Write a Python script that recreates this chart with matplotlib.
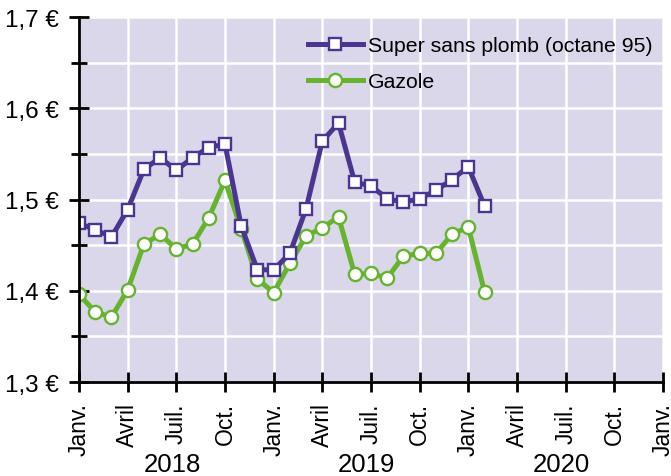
import matplotlib.pyplot as plt
import numpy as np
from matplotlib.ticker import FuncFormatter, MultipleLocator

plt.rcParams["font.family"] = ["Liberation Sans", "DejaVu Sans"]

# monthly average prices, Jan 2018 .. Feb 2020
MONTHS = [
    "2018-01", "2018-02", "2018-03", "2018-04", "2018-05", "2018-06",
    "2018-07", "2018-08", "2018-09", "2018-10", "2018-11", "2018-12",
    "2019-01", "2019-02", "2019-03", "2019-04", "2019-05", "2019-06",
    "2019-07", "2019-08", "2019-09", "2019-10", "2019-11", "2019-12",
    "2020-01", "2020-02",
]
SUPER_95 = [
    1.474, 1.467, 1.459, 1.489, 1.533, 1.546, 1.532, 1.546, 1.557, 1.561,
    1.471, 1.423, 1.423, 1.441, 1.490, 1.564, 1.584, 1.519, 1.515, 1.501,
    1.497, 1.501, 1.510, 1.522, 1.536, 1.493,
]
GAZOLE = [
    1.396, 1.377, 1.371, 1.401, 1.451, 1.462, 1.446, 1.451, 1.480, 1.521,
    1.468, 1.413, 1.398, 1.430, 1.460, 1.469, 1.481, 1.418, 1.419, 1.414,
    1.438, 1.441, 1.441, 1.462, 1.470, 1.399,
]
QUARTER_LABELS = ["Janv.", "Avril", "Juil.", "Oct."] * 3 + ["Janv."]
YEARS = ["2018", "2019", "2020"]

PURPLE = "#4a3591"
GREEN = "#66b32e"
BG = "#dad7ea"

fig = plt.figure(figsize=(6.71, 4.77), dpi=100)
ax = fig.add_axes([0.1177, 0.197, 0.8703, 0.765])
ax.set_facecolor(BG)

x = np.arange(len(MONTHS))
ax.plot(x, GAZOLE, color=GREEN, lw=3.6, marker="o", ms=9.5,
        mfc="white", mec=GREEN, mew=1.7, label="Gazole", zorder=3)
ax.plot(x, SUPER_95, color=PURPLE, lw=3.6, marker="s", ms=8,
        mfc="white", mec=PURPLE, mew=1.7,
        label="Super sans plomb (octane 95)", zorder=4)

ax.set_xlim(0, 36)
ax.set_ylim(1.3, 1.7)
ax.set_xticks(np.arange(0, 37, 3))
ax.set_xticklabels(QUARTER_LABELS, rotation=90, va="top", ha="center")
ax.yaxis.set_major_locator(MultipleLocator(0.1))
ax.yaxis.set_minor_locator(MultipleLocator(0.05))
ax.yaxis.set_major_formatter(
    FuncFormatter(lambda v, p: f"{v:.1f} €".replace(".", ","))
)

ax.grid(True, which="both", axis="y", color="white", lw=1.8, zorder=0)
ax.grid(True, which="major", axis="x", color="white", lw=1.8, zorder=0)
ax.set_axisbelow(True)

for side in ("top", "right"):
    ax.spines[side].set_visible(False)
for side in ("left", "bottom"):
    ax.spines[side].set_linewidth(2)
    ax.spines[side].set_zorder(5)

ax.tick_params(axis="both", which="major", direction="inout", length=15,
               width=2, color="black")
ax.tick_params(axis="y", which="minor", direction="inout", length=11,
               width=2)
ax.tick_params(axis="y", which="major", pad=7, labelsize=17.5)
ax.tick_params(axis="x", which="major", pad=7, labelsize=16.5)

for i, year in enumerate(YEARS):
    ax.text(12 * i + 5.75, -0.225, year, transform=ax.get_xaxis_transform(),
            ha="center", va="center", fontsize=18.5)

handles, labels = ax.get_legend_handles_labels()
ax.legend(handles[::-1], labels[::-1], loc="upper right",
          bbox_to_anchor=(1.0 + 9 / 584, 1.0), frameon=False, fontsize=15.3,
          handlelength=2.6, handletextpad=0.25, labelspacing=0.8,
          borderaxespad=0.5)

fig.savefig("out.png", dpi=100)
